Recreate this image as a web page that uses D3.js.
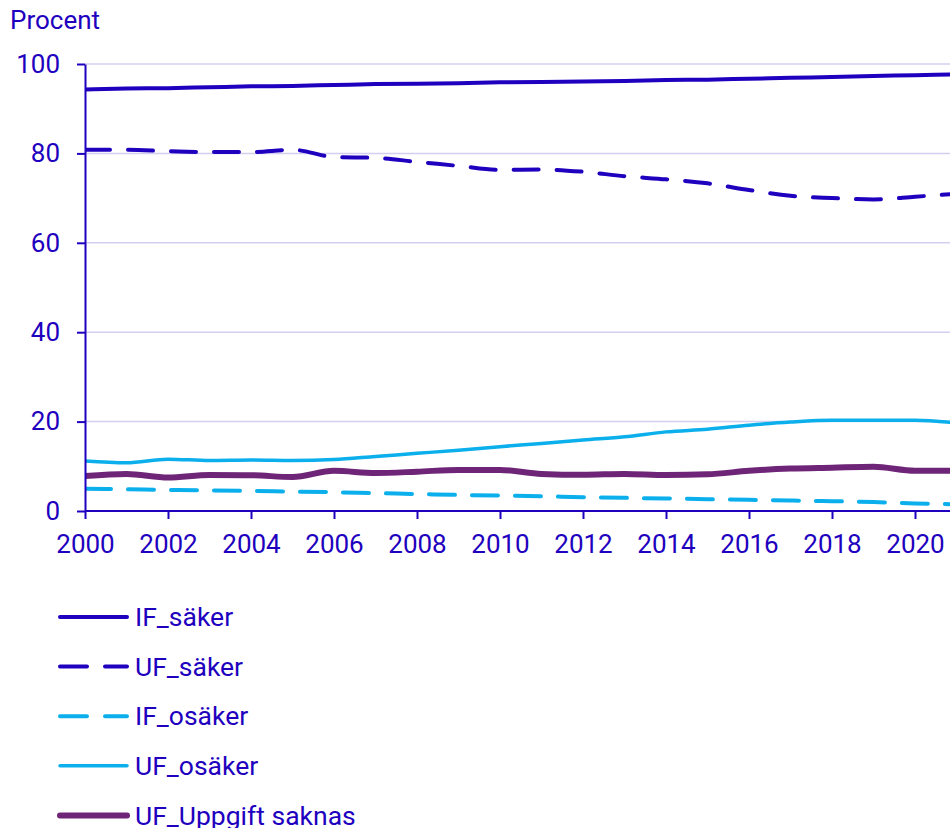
<!DOCTYPE html>
<html>
<head>
<meta charset="utf-8">
<script src="https://cdn.jsdelivr.net/npm/d3@7"></script>
<style>
  html, body { margin: 0; padding: 0; background: #fff; }
  svg { display: block; font-family: Roboto, "Noto Sans", sans-serif; }
</style>
</head>
<body>
<svg id="chart" width="950" height="828"></svg>
<script>
const years = [2000,2001,2002,2003,2004,2005,2006,2007,2008,2009,2010,2011,2012,2013,2014,2015,2016,2017,2018,2019,2020,2021];
const ifSaker = [94.3,94.5,94.6,94.8,95.0,95.1,95.3,95.5,95.6,95.7,95.9,96.0,96.1,96.2,96.4,96.5,96.7,96.9,97.1,97.3,97.5,97.7];
const ufSaker = [80.8,80.8,80.5,80.3,80.3,80.8,79.2,79.0,78.1,77.2,76.3,76.4,75.9,74.9,74.2,73.3,71.8,70.5,70.0,69.7,70.3,71.0];
const ifOsaker = [5.0,4.85,4.7,4.6,4.5,4.35,4.2,4.0,3.8,3.6,3.45,3.3,3.1,2.95,2.8,2.65,2.5,2.35,2.2,2.0,1.7,1.5];
const ufOsaker = [11.2,10.8,11.6,11.3,11.4,11.3,11.5,12.2,12.9,13.6,14.4,15.1,15.9,16.6,17.7,18.3,19.2,19.9,20.3,20.3,20.3,19.7];
const ufSaknas = [7.8,8.3,7.5,8.05,8.0,7.6,9.0,8.5,8.8,9.2,9.2,8.3,8.1,8.3,8.05,8.2,9.0,9.5,9.7,9.9,9.0,9.0];
const yTicks = [0,20,40,60,80,100];
const xTicks = [2000,2002,2004,2006,2008,2010,2012,2014,2016,2018,2020];
const seriesNames = ["IF_säker","UF_säker","IF_osäker","UF_osäker","UF_Uppgift saknas"];

const DARK = "#1e00be", LIGHT = "#0aafec", PURPLE = "#6e2577", GRID = "#d3cff1";
const series = [
  {name: seriesNames[0], values: ifSaker, color: DARK, width: 4, dash: null},
  {name: seriesNames[1], values: ufSaker, color: DARK, width: 4, dash: "25,18"},
  {name: seriesNames[2], values: ifOsaker, color: LIGHT, width: 4, dash: "26,17"},
  {name: seriesNames[3], values: ufOsaker, color: LIGHT, width: 3.5, dash: null},
  {name: seriesNames[4], values: ufSaknas, color: PURPLE, width: 6, dash: null}
];

const svg = d3.select("#chart");
const x = d3.scaleLinear().domain([2000, 2021]).range([85, 956.5]);
const y = d3.scaleLinear().domain([0, 100]).range([511, 64]);

// grid
svg.append("g").selectAll("line").data(yTicks.filter(d => d > 0)).join("line")
  .attr("x1", 85).attr("x2", 950)
  .attr("y1", d => y(d)).attr("y2", d => y(d))
  .attr("stroke", GRID).attr("stroke-width", 1.5);

svg.append("clipPath").attr("id", "plotclip").append("rect")
  .attr("x", 85).attr("y", 0).attr("width", 865).attr("height", 528);

const line = d3.line().curve(d3.curveMonotoneX);
const gLines = svg.append("g").attr("clip-path", "url(#plotclip)");
series.slice().reverse().forEach(s => {
  gLines.append("path")
    .attr("d", line(years.map((yr, i) => [x(yr), y(s.values[i])])))
    .attr("fill", "none")
    .attr("stroke", s.color)
    .attr("stroke-width", s.width)
    .attr("stroke-linecap", "round")
    .attr("stroke-linejoin", "round")
    .attr("stroke-dasharray", s.dash);
});

// axes
const yAxis = d3.axisLeft(y).tickValues(yTicks).tickSize(8).tickPadding(17).tickSizeOuter(0);
const gy = svg.append("g").attr("transform", "translate(85,0)").call(yAxis);
const xAxis = d3.axisBottom(x).tickValues(xTicks).tickFormat(d3.format("d")).tickSize(8).tickPadding(16).tickSizeOuter(0);
const gx = svg.append("g").attr("transform", "translate(0,511)").call(xAxis);
[gx, gy].forEach(g => {
  g.select(".domain").attr("stroke", DARK).attr("stroke-width", 2);
  g.selectAll(".tick line").attr("stroke", DARK).attr("stroke-width", 2);
  g.selectAll(".tick text").attr("fill", DARK).style("font-size", "26px").style("font-family", "Roboto, sans-serif");
});
gx.select(".domain").attr("d", "M85,0H950");

svg.append("text").attr("x", 10).attr("y", 29)
  .attr("fill", DARK).style("font-size", "26px").text("Procent");

// legend
const leg = svg.append("g");
series.forEach((s, i) => {
  const ly = 617 + i * 49.6;
  leg.append("line").attr("x1", 60).attr("x2", 127).attr("y1", ly).attr("y2", ly)
    .attr("stroke", s.color).attr("stroke-width", s.width).attr("stroke-linecap", "round")
    .attr("stroke-dasharray", s.dash ? "27,18" : null);
  leg.append("text").attr("x", 135).attr("y", ly).attr("dy", "0.35em")
    .attr("fill", DARK).style("font-size", "26.5px").text(s.name);
});
</script>
</body>
</html>
